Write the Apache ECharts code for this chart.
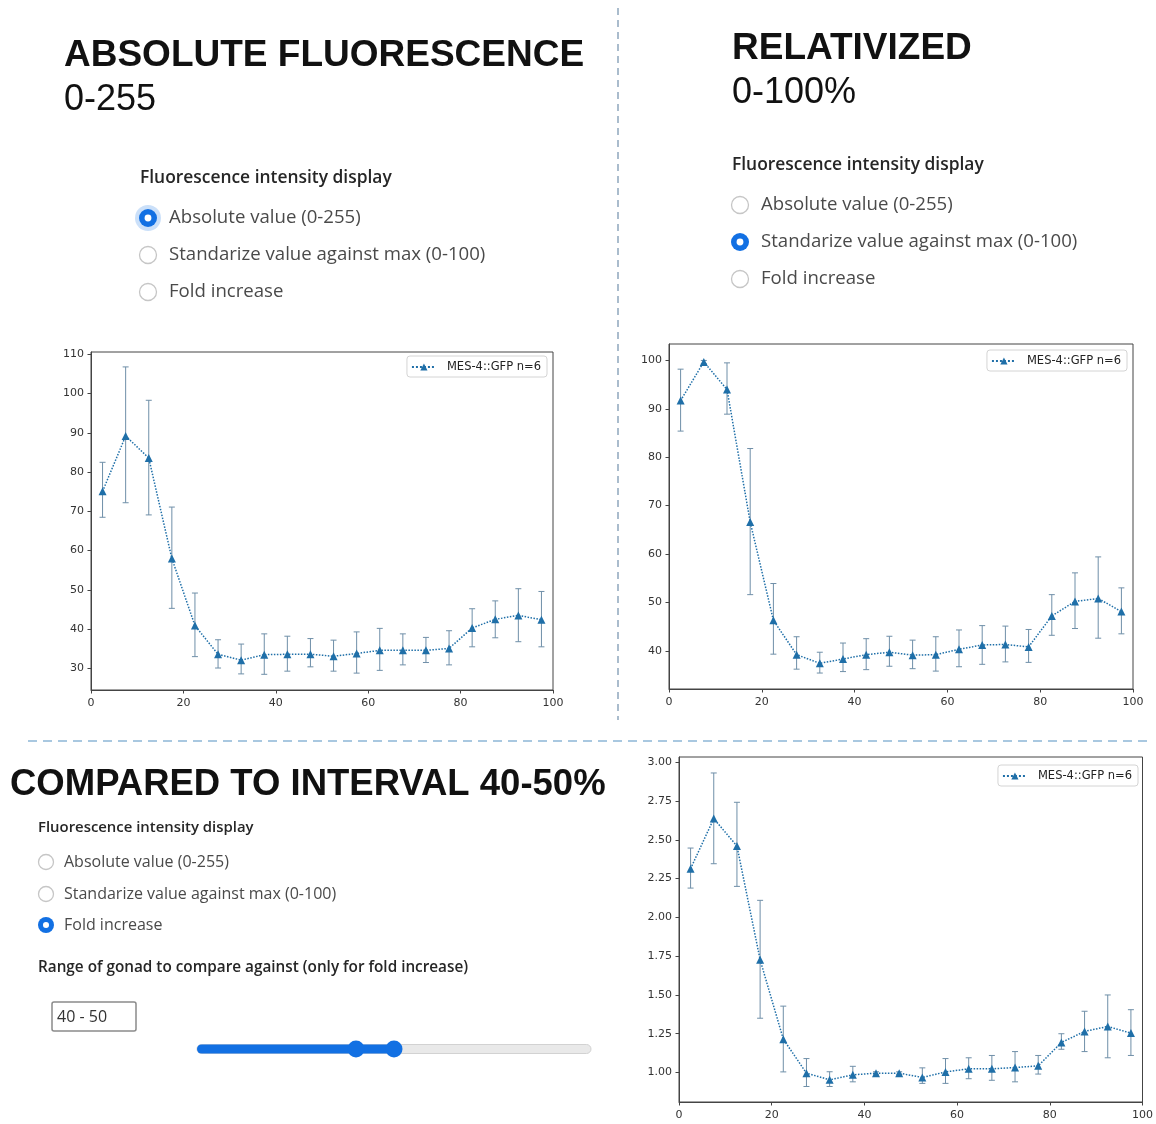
<!DOCTYPE html>
<html>
<head>
<meta charset="utf-8">
<title>MES-4::GFP fluorescence along the gonad</title>
<script src="https://cdn.jsdelivr.net/npm/echarts@6/dist/echarts.min.js"></script>
<style>
  html, body { margin: 0; padding: 0; background: #ffffff; }
  #page { width: 1156px; height: 1124px; }
</style>
</head>
<body>
<div id="page"></div>
<script>
// Gonad position (% of length), bin centres
const positions = [2.5, 7.5, 12.5, 17.5, 22.5, 27.5, 32.5, 37.5, 42.5, 47.5,
                   52.5, 57.5, 62.5, 67.5, 72.5, 77.5, 82.5, 87.5, 92.5, 97.5];

// Absolute fluorescence (0-255 scale): mean and error-bar bounds
const absMean = [75.1, 89.2, 83.6, 58.0, 40.9, 33.6, 32.1, 33.5, 33.6, 33.6,
                 33.1, 33.8, 34.6, 34.6, 34.6, 35.1, 40.3, 42.5, 43.5, 42.4];
const absLow  = [68.5, 72.2, 69.1, 45.3, 33.0, 30.1, 28.6, 28.5, 29.3, 30.4,
                 29.3, 28.8, 29.5, 30.9, 31.5, 30.9, 35.5, 37.8, 36.8, 35.5];
const absHigh = [82.5, 106.8, 98.3, 71.1, 49.2, 37.3, 36.2, 38.8, 38.2, 37.6,
                 37.2, 39.3, 40.2, 38.8, 37.9, 39.6, 45.2, 47.2, 50.3, 49.6];

// Relativized to the maximum (0-100 %)
const relMean = [91.7, 99.7, 94.0, 66.6, 46.3, 39.2, 37.4, 38.3, 39.2, 39.7,
                 39.1, 39.2, 40.3, 41.2, 41.3, 40.8, 47.2, 50.2, 50.8, 48.1];
const relLow  = [85.4, 99.3, 88.9, 51.6, 39.3, 36.2, 35.4, 35.7, 36.1, 36.8,
                 36.3, 35.8, 36.7, 37.2, 37.7, 37.6, 43.2, 44.6, 42.6, 43.5];
const relHigh = [98.2, 100.0, 99.5, 81.8, 53.9, 42.9, 39.7, 41.6, 42.5, 43.0,
                 42.2, 42.9, 44.3, 45.2, 45.1, 44.4, 51.6, 56.1, 59.4, 53.0];

// Fold increase relative to the 40-50 % interval
const foldMean = [2.314, 2.637, 2.460, 1.727, 1.215, 0.996, 0.953, 0.985, 0.996, 0.996,
                  0.968, 1.004, 1.024, 1.024, 1.032, 1.043, 1.194, 1.265, 1.297, 1.254];
const foldLow  = [2.189, 2.346, 2.200, 1.350, 1.004, 0.910, 0.910, 0.940, 0.985, 0.988,
                  0.930, 0.930, 0.960, 0.950, 0.940, 0.990, 1.150, 1.135, 1.095, 1.110];
const foldHigh = [2.447, 2.931, 2.742, 2.110, 1.428, 1.090, 1.005, 1.040, 1.005, 1.005,
                  1.030, 1.090, 1.095, 1.110, 1.135, 1.110, 1.250, 1.395, 1.500, 1.405];

// Tick labels
const xTicks    = [0, 20, 40, 60, 80, 100];
const absTicks  = [30, 40, 50, 60, 70, 80, 90, 100, 110];
const relTicks  = [40, 50, 60, 70, 80, 90, 100];
const foldTicks = [1.00, 1.25, 1.50, 1.75, 2.00, 2.25, 2.50, 2.75, 3.00];

const seriesName = 'MES-4::GFP n=6';
const radioLabels = ['Absolute value (0-255)', 'Standarize value against max (0-100)', 'Fold increase'];

const LINE_COLOR = '#1f6fa8';
const ERR_COLOR = '#6f8fa8';
const AXIS_COLOR = '#444444';
const BLUE = '#1270e3';
const TICK_FONT = { fontFamily: 'DejaVu Sans', fontSize: 11, color: '#333333' };

// Panel layout (pixels)
const panels = [
  { grid: { left: 91, top: 352, width: 462, height: 338 }, y: [24.5, 110.6], ticks: absTicks,
    mean: absMean, low: absLow, high: absHigh, legend: { right: 609, top: 356 }, fmt: v => String(v) },
  { grid: { left: 669, top: 344, width: 464, height: 345 }, y: [32.1, 103.4], ticks: relTicks,
    mean: relMean, low: relLow, high: relHigh, legend: { right: 29, top: 350 }, fmt: v => String(v) },
  { grid: { left: 679, top: 757, width: 465, height: 345 }, y: [0.81, 3.034], ticks: foldTicks,
    mean: foldMean, low: foldLow, high: foldHigh, legend: { right: 18, top: 765 }, fmt: v => v.toFixed(2) }
];

function errorBarItem(params, api) {
  const x = api.value(0);
  const lo = api.coord([x, api.value(1)]);
  const hi = api.coord([x, api.value(2)]);
  const cap = 3;
  const style = { stroke: ERR_COLOR, lineWidth: 1 };
  return {
    type: 'group',
    children: [
      { type: 'line', shape: { x1: lo[0], y1: lo[1], x2: hi[0], y2: hi[1] }, style: style },
      { type: 'line', shape: { x1: lo[0] - cap, y1: lo[1], x2: lo[0] + cap, y2: lo[1] }, style: style },
      { type: 'line', shape: { x1: hi[0] - cap, y1: hi[1], x2: hi[0] + cap, y2: hi[1] }, style: style }
    ]
  };
}

const grids = [], xAxes = [], yAxes = [], series = [], legends = [];
panels.forEach((p, i) => {
  grids.push(Object.assign({ show: true, borderColor: AXIS_COLOR, borderWidth: 1,
                              backgroundColor: '#ffffff', containLabel: false }, p.grid));
  xAxes.push({
    type: 'value', gridIndex: i, min: 0, max: 100, interval: 20,
    axisLine: { show: true, lineStyle: { color: AXIS_COLOR, width: 1 } },
    axisTick: { show: true, inside: false, length: 3.5, lineStyle: { color: AXIS_COLOR } },
    axisLabel: Object.assign({ margin: 8, customValues: xTicks }, TICK_FONT),
    splitLine: { show: false }
  });
  yAxes.push({
    type: 'value', gridIndex: i, min: p.y[0], max: p.y[1],
    axisLine: { show: true, lineStyle: { color: AXIS_COLOR, width: 1 } },
    axisTick: { show: true, inside: false, length: 3.5, lineStyle: { color: AXIS_COLOR }, customValues: p.ticks },
    axisLabel: Object.assign({ margin: 7, customValues: p.ticks, formatter: p.fmt }, TICK_FONT),
    splitLine: { show: false }
  });
  series.push({
    name: 'error' + i, type: 'custom', xAxisIndex: i, yAxisIndex: i,
    renderItem: errorBarItem, encode: { x: 0, y: [1, 2] }, z: 2, silent: true,
    data: positions.map((x, k) => [x, p.low[k], p.high[k]])
  });
  series.push({
    name: seriesName, type: 'line', xAxisIndex: i, yAxisIndex: i, z: 3,
    symbol: 'triangle', symbolSize: 8, showSymbol: true,
    lineStyle: { color: LINE_COLOR, width: 1.5, type: 'dotted' },
    itemStyle: { color: LINE_COLOR },
    data: positions.map((x, k) => [x, p.mean[k]])
  });
  legends.push({
    data: [seriesName], right: p.legend.right, top: p.legend.top, orient: 'vertical',
    selectedMode: false, itemWidth: 24, itemHeight: 9, itemGap: 4,
    padding: [5, 6, 4, 4], borderColor: '#d4d4d4', borderWidth: 1, borderRadius: 3,
    backgroundColor: '#ffffff',
    textStyle: { fontFamily: 'DejaVu Sans', fontSize: 11.5, color: '#222222', padding: [0, 0, 0, 6] }
  });
});

// Radio-button group (option list of the display selector)
function radioGroup(x, yList, selected, r, textX, font, halo) {
  const out = [];
  yList.forEach((y, k) => {
    if (k === selected) {
      if (halo) out.push({ type: 'circle', shape: { cx: x, cy: y, r: r + 4 }, style: { fill: 'rgba(18,112,227,0.22)' } });
      out.push({ type: 'circle', shape: { cx: x, cy: y, r: r }, style: { fill: BLUE } });
      out.push({ type: 'circle', shape: { cx: x, cy: y, r: r * 0.38 }, style: { fill: '#ffffff' } });
    } else {
      out.push({ type: 'circle', shape: { cx: x, cy: y, r: r - 0.5 }, style: { fill: '#ffffff', stroke: '#c6c6c6', lineWidth: 1.3 } });
    }
    out.push({ type: 'text', x: textX, y: y, style: { text: radioLabels[k], font: font, fill: '#4a4a4a', verticalAlign: 'middle' } });
  });
  return out;
}

const headFont = 'bold 37px "Liberation Sans", Arial, sans-serif';
const subFont = '36px "Liberation Sans", Arial, sans-serif';
const labelBold = '600 17.4px "Open Sans", "Noto Sans", sans-serif';
const labelReg = '18.6px "Open Sans", "Noto Sans", sans-serif';
const labelBoldSmall = '600 14.9px "Open Sans", "Noto Sans", sans-serif';
const labelBoldRange = '600 15.3px "Open Sans", "Noto Sans", sans-serif';
const labelRegSmall = '16px "Open Sans", "Noto Sans", sans-serif';

const graphics = [
  // panel dividers
  { type: 'line', shape: { x1: 618, y1: 8, x2: 618, y2: 720 }, style: { stroke: '#8fa6bd', lineWidth: 1.5, lineDash: [7, 5] } },
  { type: 'line', shape: { x1: 28, y1: 741, x2: 1150, y2: 741 }, style: { stroke: '#8db6d6', lineWidth: 1.5, lineDash: [9, 6] } },

  // headings
  { type: 'text', x: 64, y: 37, style: { text: 'ABSOLUTE FLUORESCENCE', font: headFont, fill: '#111111', verticalAlign: 'top' } },
  { type: 'text', x: 64, y: 82, style: { text: '0-255', font: subFont, fill: '#111111', verticalAlign: 'top' } },
  { type: 'text', x: 732, y: 30, style: { text: 'RELATIVIZED', font: headFont, fill: '#111111', verticalAlign: 'top' } },
  { type: 'text', x: 732, y: 75, style: { text: '0-100%', font: subFont, fill: '#111111', verticalAlign: 'top' } },
  { type: 'text', x: 10, y: 766, style: { text: 'COMPARED TO INTERVAL 40-50%', font: 'bold 36.5px "Liberation Sans", Arial, sans-serif', fill: '#111111', verticalAlign: 'top' } },

  // selector captions
  { type: 'text', x: 140, y: 178, style: { text: 'Fluorescence intensity display', font: labelBold, fill: '#262626', verticalAlign: 'middle' } },
  { type: 'text', x: 732, y: 165, style: { text: 'Fluorescence intensity display', font: labelBold, fill: '#262626', verticalAlign: 'middle' } },
  { type: 'text', x: 38, y: 828, style: { text: 'Fluorescence intensity display', font: labelBoldSmall, fill: '#262626', verticalAlign: 'middle' } },
  { type: 'text', x: 38, y: 968, style: { text: 'Range of gonad to compare against (only for fold increase)', font: labelBoldRange, fill: '#262626', verticalAlign: 'middle' } },

  // range input
  { type: 'rect', shape: { x: 52, y: 1002, width: 84, height: 29, r: 2 }, style: { fill: '#ffffff', stroke: '#8a8a8a', lineWidth: 1.5 } },
  { type: 'text', x: 57, y: 1017, style: { text: '40 - 50', font: labelRegSmall, fill: '#333333', verticalAlign: 'middle' } },

  // range slider
  { type: 'rect', shape: { x: 197, y: 1044.5, width: 394, height: 9, r: 4.5 }, style: { fill: '#e9e9e9', stroke: '#d2d2d2', lineWidth: 1 } },
  { type: 'rect', shape: { x: 197, y: 1044.5, width: 197, height: 9, r: 4.5 }, style: { fill: BLUE } },
  { type: 'circle', shape: { cx: 356, cy: 1049, r: 8.5 }, style: { fill: BLUE } },
  { type: 'circle', shape: { cx: 394, cy: 1049, r: 8.5 }, style: { fill: BLUE } }
]
  .concat(radioGroup(148, [218, 255, 292], 0, 9, 169, labelReg, true))
  .concat(radioGroup(740, [205, 242, 279], 1, 9, 761, labelReg, false))
  .concat(radioGroup(46, [862, 894, 925], 2, 8, 64, labelRegSmall, false));

const chart = echarts.init(document.getElementById('page'), null, { renderer: 'canvas', width: 1156, height: 1124 });
chart.setOption({
  backgroundColor: '#ffffff',
  animation: false,
  grid: grids,
  xAxis: xAxes,
  yAxis: yAxes,
  legend: legends,
  series: series,
  graphic: graphics
});
</script>
</body>
</html>
